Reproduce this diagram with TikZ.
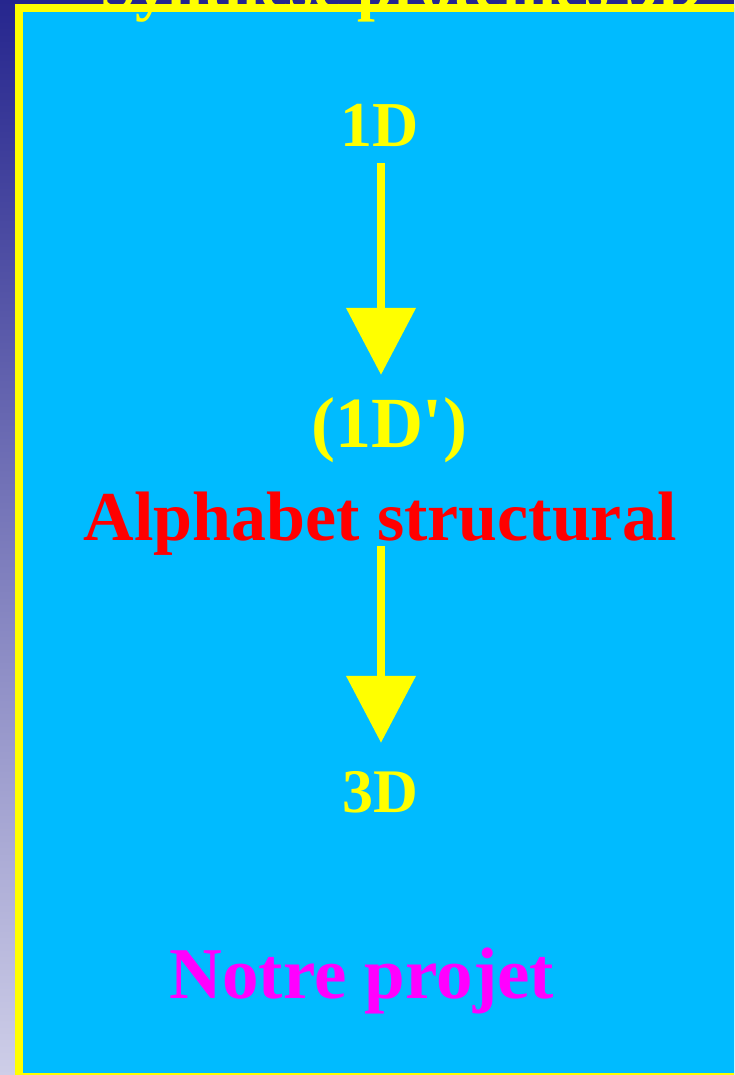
\documentclass[tikz,border=0pt]{standalone}
\usepackage{fontspec}
\setmainfont{Liberation Serif}
\usetikzlibrary{arrows.meta}
\definecolor{skyb}{RGB}{0,187,255}
\definecolor{ylw}{RGB}{255,255,0}
\definecolor{navyb}{RGB}{38,38,142}
\definecolor{lav}{RGB}{206,206,232}
\definecolor{mag}{RGB}{255,0,255}
\definecolor{redt}{RGB}{255,0,0}
\tikzset{
  lbl/.style={font=\bfseries\fontsize{#1}{#1}\selectfont, inner sep=0pt, anchor=base},
  arr/.style={ylw, line width=8pt, -{Triangle[width=68pt,length=67pt]}}
}
\begin{document}
\begin{tikzpicture}[x=1pt,y=-1pt]
\useasboundingbox (0,0) rectangle (734,1075);
\begin{scope}
\clip (0,0) rectangle (734,1075);
\shade[top color=navyb,bottom color=lav] (0,0) rectangle (734,1075);
\fill[skyb] (19,8) rectangle (740,1080);
\draw[ylw, line width=8pt] (19,1077) -- (19,8) -- (800,8);
\draw[ylw, line width=3pt] (19,1074.5) -- (740,1074.5);
\node[lbl=64, text=ylw, anchor=base west] (title) at (100,9) {Synthèse protéines 3D};
\end{scope}
\node[lbl=64, text=ylw] (d1) at (380,147) {1D};
\node[lbl=72, text=ylw] (d2) at (389,447) {(1D\textquotesingle)};
\node[lbl=70, text=redt] (alpha) at (380,540) {Alphabet structural};
\node[lbl=62, text=ylw] (d3) at (380,812) {3D};
\node[lbl=73, text=mag] (proj) at (362,998) {Notre projet};
\draw[arr, shorten <=16pt, shorten >=22pt] (d1.south -| 381,0) -- (d2.north -| 381,0);
\draw[arr, shorten <=6pt, shorten >=28pt] (alpha.base -| 381,0) -- (d3.north -| 381,0);
\end{tikzpicture}
\end{document}
